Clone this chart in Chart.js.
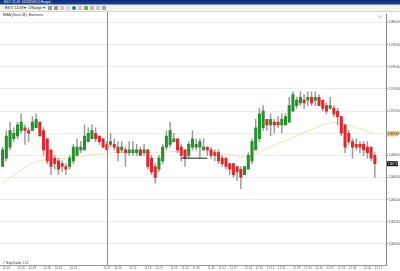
<html>
<head>
<script src="https://cdn.jsdelivr.net/npm/chart.js@4.4.3/dist/chart.umd.min.js"></script>
<style>
    body { margin: 0; width: 400px; height: 271px; overflow: hidden; background: #fff; position: relative; font-family: Arial, "Liberation Sans", sans-serif; }
    #titlebar { position: absolute; left: 0; top: 0; width: 400px; height: 4px; background: linear-gradient(#0b2a7e, #1d3f96); color: #fff; font-size: 3px; line-height: 4px; padding-left: 4px; box-sizing: border-box; }
    #sep { position: absolute; left: 0; top: 4px; width: 400px; height: 1px; background: #7d97c9; }
    #toolbar { position: absolute; left: 0; top: 5px; width: 400px; height: 7px; background: #f5f2e9; border-bottom: 1px solid #d9d4c5; box-sizing: border-box; font-size: 3.5px; line-height: 6px; color: #222; padding-left: 5px; white-space: nowrap; }
    .ic { display: inline-block; width: 4px; height: 4px; margin-left: 2px; vertical-align: middle; background: #9c9c9c; }
    #wrap { position: absolute; left: 0; top: 12px; width: 400px; height: 259px; }
    #ind { position: absolute; left: 3px; top: 13px; font-size: 3.5px; color: #333; }
    #copy { position: absolute; left: 3px; top: 261px; font-size: 3px; color: #333; }
    #end { position: absolute; left: 378px; top: 14px; font-size: 4px; color: #888; }
</style>
</head>
<body>
<div id="titlebar">ES## 12-09 &nbsp;10/13/2009 (5 Range)</div>
<div id="sep"></div>
<div id="toolbar">ES## 12-09 ▾ &nbsp;5 Range ▾ <span class="ic"></span><span class="ic"></span><span class="ic" style="background:#c9c9c9"></span><span class="ic" style="background:#d5d5d5"></span><span class="ic" style="background:#2f7d9a;border-radius:2px"></span><span class="ic" style="background:#ccc"></span><span class="ic" style="background:#6fb04a"></span><span class="ic" style="background:#bbb"></span><span class="ic" style="background:#ccc"></span><span class="ic" style="background:#aaa"></span></div>
<div id="wrap"><canvas id="mychart"></canvas></div>
<div id="ind">EMA(Close,34), Harmonic</div>
<div id="end">▷|</div>
<div id="copy">© NinjaTrader, LLC</div>
<script>
    // range bars, one entry per bar
    let open = [1067.0, 1067.75, 1068.75, 1069.5, 1069.75, 1070.25, 1070.5, 1070.25, 1070.25, 1070.5,
        1071.0, 1070.25, 1069.5, 1068.5, 1067.75, 1067.5, 1067.25, 1067.0, 1067.0, 1067.5,
        1068.0, 1068.5, 1068.5, 1069.25, 1069.5, 1070.0, 1069.75, 1069.5, 1069.0, 1069.0,
        1069.0, 1068.75, 1068.5, 1068.5, 1068.25, 1068.25, 1068.25, 1068.5, 1068.25, 1068.5,
        1067.75, 1067.0, 1066.75, 1067.5, 1068.75, 1069.0, 1069.25, 1069.5, 1068.75, 1068.5,
        1068.0, 1068.75, 1068.75, 1068.75, 1068.5, 1068.75, 1068.5, 1068.25, 1068.25, 1067.75,
        1067.75, 1067.25, 1067.25, 1067.0, 1066.75, 1066.25, 1066.75, 1067.5, 1068.5, 1069.5,
        1070.5, 1071.25, 1070.75, 1071.0, 1071.0, 1070.75, 1070.75, 1071.0, 1072.0, 1072.5,
        1072.75, 1073.0, 1073.0, 1073.25, 1073.0, 1073.25, 1073.0, 1072.5, 1072.25, 1072.25,
        1072.0, 1071.5, 1070.75, 1070.0, 1069.25, 1069.0, 1069.0, 1069.0, 1068.75, 1068.75,
        1068.0];
    let high = [1068.75, 1070.25, 1071.0, 1070.5, 1071.0, 1071.75, 1070.75, 1070.5, 1071.5, 1071.75,
        1071.0, 1070.5, 1069.5, 1068.5, 1068.0, 1067.75, 1067.5, 1067.25, 1068.0, 1069.0,
        1069.5, 1069.25, 1070.75, 1070.5, 1070.75, 1070.5, 1069.75, 1069.5, 1069.25, 1070.0,
        1069.5, 1069.25, 1069.25, 1068.75, 1069.25, 1069.25, 1069.0, 1068.75, 1069.0, 1068.5,
        1068.0, 1067.25, 1068.0, 1069.0, 1070.25, 1071.0, 1070.0, 1069.5, 1069.0, 1068.5,
        1069.25, 1070.25, 1069.5, 1069.5, 1069.5, 1068.75, 1068.75, 1068.5, 1068.5, 1068.0,
        1067.75, 1067.25, 1067.25, 1067.0, 1067.0, 1067.0, 1068.25, 1069.5, 1071.25, 1072.25,
        1072.5, 1071.25, 1071.75, 1071.25, 1071.5, 1071.75, 1071.75, 1073.25, 1073.75, 1073.25,
        1073.75, 1073.5, 1073.75, 1073.75, 1073.75, 1073.5, 1073.0, 1072.75, 1073.25, 1072.5,
        1072.25, 1071.5, 1070.75, 1070.25, 1069.5, 1069.5, 1069.25, 1069.25, 1069.25, 1068.75,
        1068.25];
    let low = [1067.0, 1067.5, 1068.5, 1069.25, 1069.5, 1070.0, 1069.0, 1069.25, 1070.25, 1070.5,
        1069.75, 1068.0, 1067.25, 1066.25, 1066.75, 1066.25, 1066.5, 1066.25, 1066.75, 1067.25,
        1068.0, 1068.25, 1068.5, 1069.25, 1069.5, 1069.25, 1069.0, 1068.75, 1068.5, 1068.75,
        1068.5, 1067.5, 1068.25, 1067.0, 1068.0, 1068.0, 1068.0, 1068.0, 1068.0, 1066.75,
        1066.25, 1065.5, 1066.5, 1067.25, 1068.5, 1068.75, 1069.25, 1068.25, 1067.5, 1067.0,
        1067.75, 1068.5, 1068.5, 1067.75, 1068.5, 1068.0, 1067.75, 1067.5, 1067.25, 1067.0,
        1066.75, 1066.25, 1066.0, 1065.75, 1065.0, 1066.25, 1066.75, 1067.25, 1068.5, 1069.25,
        1070.25, 1070.25, 1069.75, 1070.0, 1070.5, 1070.0, 1070.75, 1071.0, 1072.0, 1072.25,
        1072.5, 1072.25, 1072.5, 1072.5, 1072.5, 1072.5, 1072.0, 1071.75, 1072.25, 1071.5,
        1070.75, 1069.75, 1068.25, 1069.0, 1067.75, 1068.5, 1068.25, 1068.0, 1067.75, 1067.5,
        1066.0];
    let close = [1068.5, 1069.75, 1070.25, 1070.0, 1070.75, 1071.0, 1070.25, 1070.0, 1071.0, 1071.25,
        1069.75, 1068.5, 1067.5, 1067.0, 1067.25, 1066.75, 1067.0, 1066.75, 1067.75, 1068.75,
        1068.75, 1068.75, 1069.75, 1070.0, 1070.25, 1069.5, 1069.25, 1068.75, 1068.5, 1069.25,
        1068.75, 1068.25, 1068.75, 1068.25, 1068.5, 1068.5, 1068.5, 1068.0, 1068.5, 1067.0,
        1066.5, 1066.0, 1067.75, 1068.75, 1069.75, 1070.25, 1069.5, 1068.5, 1068.0, 1067.75,
        1069.0, 1069.5, 1069.0, 1069.25, 1068.75, 1068.5, 1068.0, 1068.0, 1067.5, 1067.25,
        1067.0, 1066.75, 1066.25, 1066.5, 1066.0, 1067.0, 1068.0, 1069.25, 1070.5, 1071.75,
        1072.0, 1070.75, 1071.25, 1070.75, 1070.75, 1071.25, 1071.5, 1072.5, 1073.5, 1073.0,
        1073.25, 1072.75, 1073.25, 1072.75, 1073.25, 1072.5, 1072.25, 1072.0, 1072.5, 1071.75,
        1071.5, 1070.0, 1068.75, 1069.25, 1068.75, 1068.75, 1068.75, 1068.5, 1068.25, 1067.75,
        1067.25];
    // EMA(34) as plotted
    let ema34 = [1065.46, 1065.73, 1065.96, 1066.18, 1066.45, 1066.67, 1066.90, 1067.12, 1067.30, 1067.43,
        1067.52, 1067.59, 1067.63, 1067.66, 1067.68, 1067.70, 1067.72, 1067.75, 1067.77, 1067.81,
        1067.86, 1067.90, 1067.95, 1068.02, 1068.08, 1068.12, 1068.15, 1068.18, 1068.20, 1068.22,
        1068.24, 1068.26, 1068.28, 1068.29, 1068.30, 1068.30, 1068.29, 1068.28, 1068.26, 1068.24,
        1068.22, 1068.22, 1068.24, 1068.28, 1068.30, 1068.33, 1068.35, 1068.35, 1068.35, 1068.33,
        1068.33, 1068.35, 1068.37, 1068.39, 1068.39, 1068.37, 1068.35, 1068.31, 1068.27, 1068.21,
        1068.15, 1068.09, 1068.02, 1067.94, 1067.86, 1067.84, 1067.88, 1067.97, 1068.11, 1068.29,
        1068.46, 1068.64, 1068.78, 1068.91, 1069.05, 1069.18, 1069.31, 1069.45, 1069.63, 1069.76,
        1069.94, 1070.08, 1070.21, 1070.34, 1070.48, 1070.61, 1070.75, 1070.86, 1070.93, 1070.97,
        1070.97, 1070.93, 1070.84, 1070.75, 1070.63, 1070.52, 1070.42, 1070.30, 1070.18, 1070.06,
        1069.94];

    let timeIdx = [1, 5, 8, 12, 15, 19, 28, 31, 35, 39, 42, 46, 49, 52, 56, 59, 62, 66, 69, 72, 75, 79, 82, 85, 88, 91, 94, 98, 101];
    let timeLabels = ["10:26", "10:29", "10:33", "10:38", "10:42", "10:47", "11:02", "11:06", "11:12", "11:18",
        "11:23", "11:29", "11:34", "11:39", "11:46", "11:52", "11:57", "12:04", "12:10", "12:15",
        "12:21", "12:28", "12:34", "12:40", "12:47", "12:53", "12:59", "13:06", "13:12"];
    let priceTicks = [1080, 1078, 1076, 1074, 1072, 1070, 1068, 1066, 1064, 1062, 1060];

    let cursorIdx = 28;                 // crosshair bar
    let drawnLine = [48, 55, 1067.75];  // from bar, to bar, price

    let idx = close.map((v, i) => i);

    const overlay = {
        id: 'overlay',
        afterDatasetsDraw(chart) {
            let ctx = chart.ctx, area = chart.chartArea;
            let cx = Math.round(chart.scales.x.getPixelForValue(cursorIdx)) + 0.5;
            ctx.save();
            ctx.strokeStyle = '#8e8e8e';
            ctx.lineWidth = 1;
            ctx.beginPath();
            ctx.moveTo(cx, 0);
            ctx.lineTo(cx, area.bottom);
            ctx.stroke();
            ctx.restore();
        },
        afterDraw(chart) {
            let ctx = chart.ctx, area = chart.chartArea, ys = chart.scales.y;
            function tag(v, bg, fg) {
                let y = ys.getPixelForValue(v);
                ctx.save();
                ctx.fillStyle = bg;
                ctx.fillRect(area.right + 1, y - 2.5, 11, 5);
                ctx.fillStyle = fg;
                ctx.font = '3px Arial';
                ctx.textBaseline = 'middle';
                ctx.fillText(v.toFixed(2), area.right + 2, y);
                ctx.restore();
            }
            tag(ema34[ema34.length - 1], '#e6cf6e', '#333');
            tag(close[close.length - 1], '#111', '#fff');
        }
    };

    let config = {
        type: 'bar',
        data: {
            datasets: [
                {
                    type: 'line',
                    data: idx.map(i => ({x: i, y: ema34[i]})),
                    borderColor: '#f1e4ae',
                    borderWidth: 1,
                    pointRadius: 0,
                    tension: 0,
                    order: 3
                },
                {
                    data: idx.map(i => ({x: i, y: [low[i], high[i]]})),
                    backgroundColor: '#9a9a9a',
                    barThickness: 0.8,
                    grouped: false,
                    order: 2
                },
                {
                    data: idx.map(i => ({x: i, y: [open[i], close[i]]})),
                    backgroundColor: idx.map(i => close[i] >= open[i] ? '#26902a' : '#e3262b'),
                    barThickness: 2.4,
                    minBarLength: 1,
                    grouped: false,
                    order: 1
                },
                {
                    type: 'line',
                    data: [{x: drawnLine[0], y: drawnLine[2]}, {x: drawnLine[1], y: drawnLine[2]}],
                    borderColor: '#222',
                    borderWidth: 1,
                    pointRadius: 0,
                    order: 0
                }
            ]
        },
        options: {
            responsive: true,
            maintainAspectRatio: false,
            animation: false,
            layout: {padding: {top: 1, left: 0, right: 0, bottom: 0}, autoPadding: false},
            plugins: {legend: {display: false}, tooltip: {enabled: false}},
            scales: {
                x: {
                    type: 'linear',
                    min: -0.7,
                    max: 103,
                    offset: false,
                    grid: {drawOnChartArea: false, drawTicks: false, offset: false},
                    border: {display: true, color: '#9a9a9a'},
                    ticks: {
                        font: {size: 3, family: 'Arial'},
                        color: '#666',
                        autoSkip: false,
                        maxRotation: 0,
                        padding: 1.5,
                        callback: (v, i) => timeLabels[i]
                    },
                    afterBuildTicks: s => { s.ticks = timeIdx.map(v => ({value: v})); },
                    afterFit: s => { s.height = 6; }
                },
                y: {
                    position: 'right',
                    min: 1058.1,
                    max: 1080.7,
                    grid: {color: '#eeeeee', tickLength: 2, tickColor: '#999'},
                    border: {display: true, color: '#8a8a8a'},
                    ticks: {
                        font: {size: 3, family: 'Arial'},
                        color: '#444',
                        padding: 1,
                        callback: v => v.toFixed(2)
                    },
                    afterBuildTicks: s => { s.ticks = priceTicks.map(v => ({value: v})); },
                    afterFit: s => { s.width = 14; }
                }
            }
        },
        plugins: [overlay]
    };

    new Chart(document.getElementById('mychart'), config);
</script>
</body>
</html>
